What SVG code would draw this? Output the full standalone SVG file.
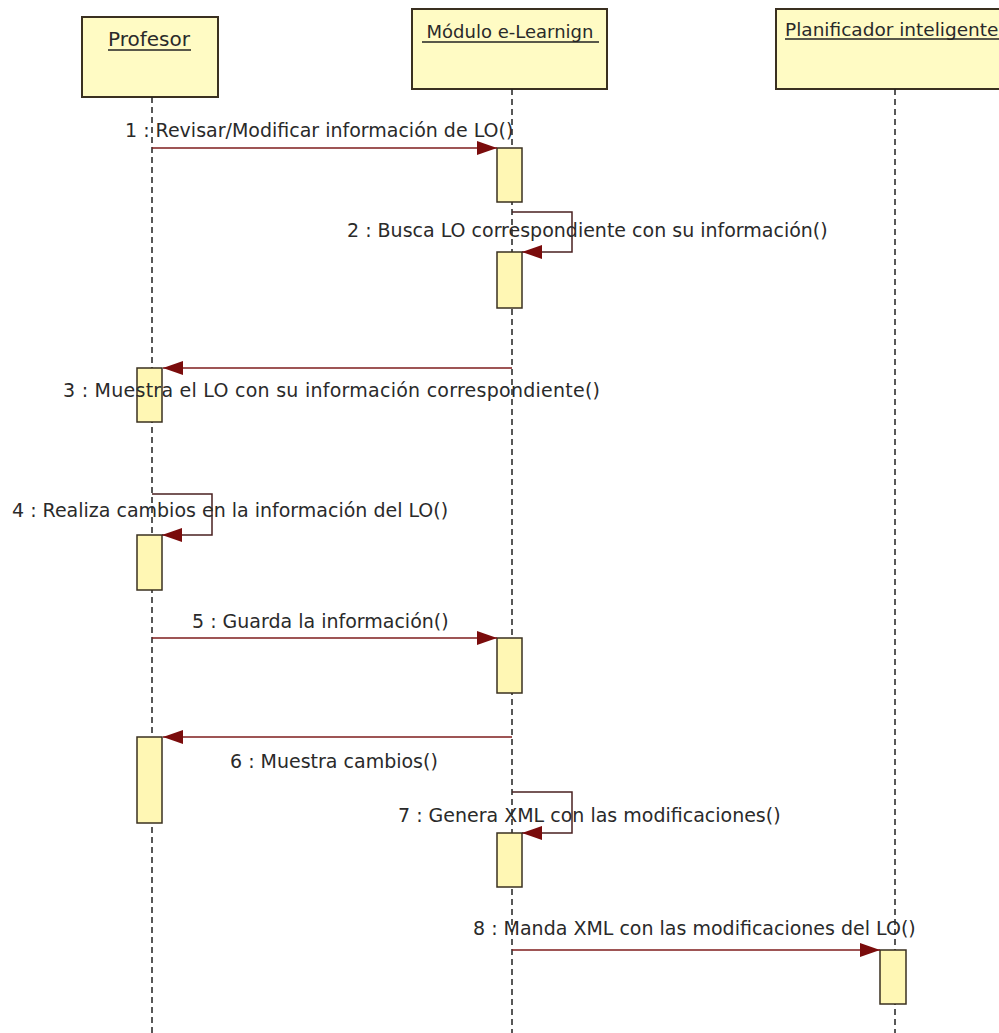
<svg xmlns="http://www.w3.org/2000/svg" width="999" height="1033" viewBox="0 0 999 1033">
  <style>
    .head { fill: #fffbc4; stroke: #3a3020; stroke-width: 2; }
    .act { fill: #fff7b4; stroke: #3a3020; stroke-width: 1.5; }
    .life { stroke: #222; stroke-width: 1.5; stroke-dasharray: 6 4; fill: none; }
    .title { font-family: "DejaVu Sans", sans-serif; font-size: 18px; fill: #2a2a2a; }
    .uline { stroke: #222; stroke-width: 1.3; }
    .msg { stroke: #7e1c1c; stroke-width: 1.5; fill: none; }
    .loop { stroke: #4a2020; stroke-width: 1.5; fill: none; }
    .lbl { font-family: "DejaVu Sans", sans-serif; font-size: 19px; fill: #2a2a2a; }
  </style>
  <defs>
    <marker id="arrow" markerUnits="userSpaceOnUse" markerWidth="20" markerHeight="14" refX="20" refY="7" orient="auto">
      <path d="M0,0 L20,7 L0,14 z" fill="#7a0c0c"/>
    </marker>
  </defs>
  <rect width="999" height="1033" fill="#ffffff"/>

  <!-- Lifeline: Profesor -->
  <g id="profesor">
    <rect class="head" x="82" y="17" width="136" height="80"/>
    <text class="title" x="149" y="46" text-anchor="middle" style="font-size:20px">Profesor</text>
    <line class="uline" x1="108" y1="50" x2="191" y2="50"/>
    <line class="life" x1="152" y1="97" x2="152" y2="1033"/>
    <rect class="act" x="137" y="368" width="25" height="54"/>
    <rect class="act" x="137" y="535" width="25" height="55"/>
    <rect class="act" x="137" y="737" width="25" height="86"/>
  </g>

  <!-- Lifeline: Módulo e-Learnign -->
  <g id="modulo">
    <rect class="head" x="412" y="9" width="195" height="80"/>
    <text class="title" x="510" y="38" text-anchor="middle">Módulo e-Learnign</text>
    <line class="uline" x1="422" y1="42" x2="599" y2="42"/>
    <line class="life" x1="512" y1="89" x2="512" y2="1033"/>
    <rect class="act" x="497" y="148" width="25" height="54"/>
    <rect class="act" x="497" y="252" width="25" height="56"/>
    <rect class="act" x="497" y="638" width="25" height="55"/>
    <rect class="act" x="497" y="833" width="25" height="54"/>
  </g>

  <!-- Lifeline: Planificador inteligente -->
  <g id="planificador">
    <rect class="head" x="776" y="9" width="240" height="80"/>
    <text class="title" x="785" y="36" style="font-size:18.5px">Planificador inteligente</text>
    <line class="uline" x1="785" y1="39" x2="999" y2="39"/>
    <line class="life" x1="895" y1="89" x2="895" y2="1033"/>
    <rect class="act" x="880" y="950" width="26" height="54"/>
  </g>

  <!-- Messages -->
  <g id="connectors">
    <line class="msg" x1="152" y1="148" x2="497" y2="148" marker-end="url(#arrow)"/>
    <text class="lbl" x="125" y="137">1 : Revisar/Modificar información de LO()</text>

    <polyline class="loop" points="512,212 572,212 572,252 522,252" marker-end="url(#arrow)"/>
    <text class="lbl" x="347" y="237">2 : Busca LO correspondiente con su información()</text>

    <line class="msg" x1="512" y1="368" x2="163" y2="368" marker-end="url(#arrow)"/>
    <text class="lbl" x="63" y="397" textLength="537">3 : Muestra el LO con su información correspondiente()</text>

    <polyline class="loop" points="152,494 212,494 212,535 162,535" marker-end="url(#arrow)"/>
    <text class="lbl" x="12" y="517">4 : Realiza cambios en la información del LO()</text>

    <line class="msg" x1="152" y1="638" x2="497" y2="638" marker-end="url(#arrow)"/>
    <text class="lbl" x="192" y="628">5 : Guarda la información()</text>

    <line class="msg" x1="512" y1="737" x2="163" y2="737" marker-end="url(#arrow)"/>
    <text class="lbl" x="230" y="768">6 : Muestra cambios()</text>

    <polyline class="loop" points="512,792 572,792 572,833 522,833" marker-end="url(#arrow)"/>
    <text class="lbl" x="398" y="822">7 : Genera XML con las modificaciones()</text>

    <line class="msg" x1="512" y1="950" x2="880" y2="950" marker-end="url(#arrow)"/>
    <text class="lbl" x="473" y="935">8 : Manda XML con las modificaciones del LO()</text>
  </g>
</svg>
